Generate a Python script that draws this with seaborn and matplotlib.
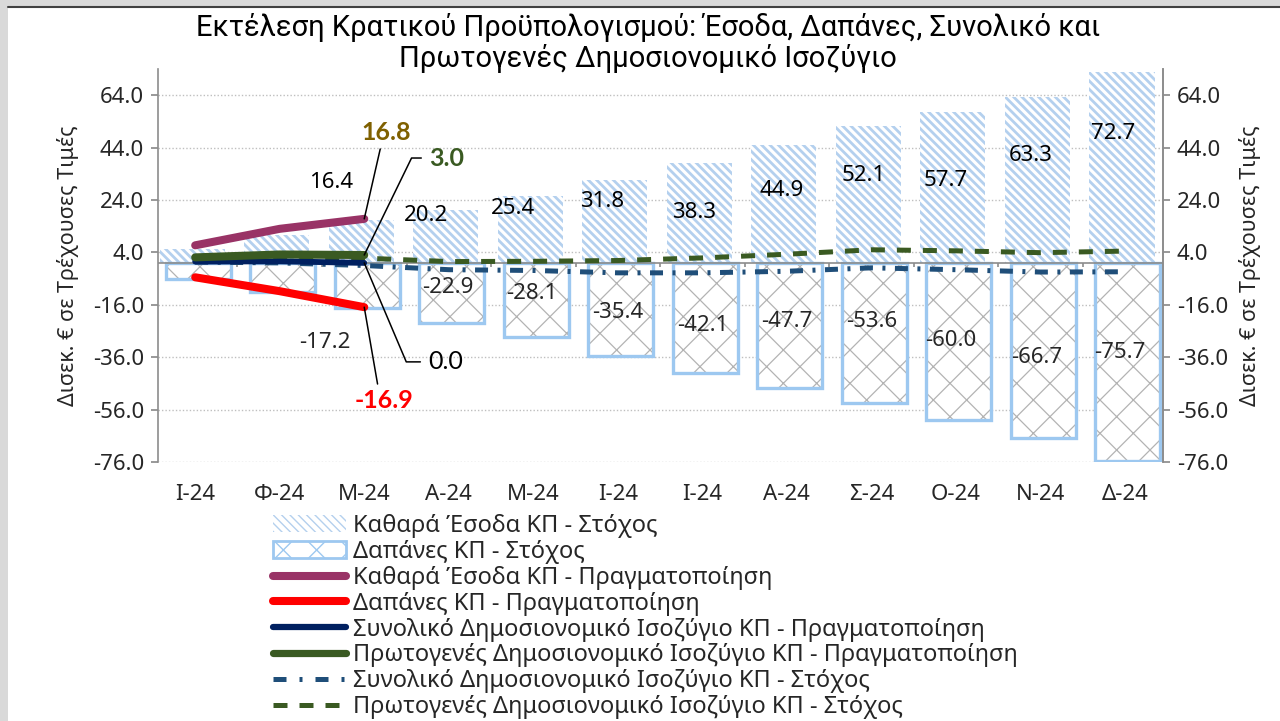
import numpy as np
import matplotlib
matplotlib.use("Agg")
import matplotlib.pyplot as plt
import seaborn as sns
from matplotlib.patches import Patch, Rectangle
from matplotlib.lines import Line2D

# data
months = ["Ι-24", "Φ-24", "Μ-24", "Α-24", "Μ-24", "Ι-24", "Ι-24", "Α-24", "Σ-24", "Ο-24", "Ν-24", "Δ-24"]
rev_target = [5.4, 10.5, 16.4, 20.2, 25.4, 31.8, 38.3, 44.9, 52.1, 57.7, 63.3, 72.7]
exp_target = [-6.0, -11.2, -17.2, -22.9, -28.1, -35.4, -42.1, -47.7, -53.6, -60.0, -66.7, -75.7]
bal_target = [0.3, 0.0, -1.0, -2.6, -2.9, -3.8, -3.8, -3.2, -1.9, -2.6, -3.5, -3.4]
prim_target = [1.5, 1.7, 1.8, 0.5, 0.6, 0.9, 1.9, 3.3, 5.0, 4.6, 3.9, 4.5]
rev_actual = [6.7, 13.0, 16.8]
exp_actual = [-5.5, -10.8, -16.9]
bal_actual = [0.5, 0.6, 0.0]
prim_actual = [2.1, 3.2, 3.0]

# where the bar value labels sit (data units), as placed in the original
rev_label_y = [None, None, 30.8, 17.9, 20.7, 23.6, 19.4, 27.7, 33.2, 31.3, 40.8, 49.2]
rev_label_dx = [0, 0, -0.39, -0.27, -0.24, -0.18, -0.10, -0.06, -0.09, -0.12, -0.12, -0.14]
exp_label_y = [None, None, -30.5, -9.3, -11.8, -18.9, -24.0, -22.4, -22.4, -29.5, -36.1, -34.2]
exp_label_dx = [0, 0, -0.47, -0.01, -0.02, 0.0, 0.0, 0.0, 0.0, -0.06, -0.04, -0.06]

labels = ["Καθαρά Έσοδα ΚΠ - Στόχος",
          "Δαπάνες ΚΠ - Στόχος",
          "Καθαρά Έσοδα ΚΠ - Πραγματοποίηση",
          "Δαπάνες ΚΠ - Πραγματοποίηση",
          "Συνολικό Δημοσιονομικό Ισοζύγιο ΚΠ - Πραγματοποίηση",
          "Πρωτογενές Δημοσιονομικό Ισοζύγιο ΚΠ - Πραγματοποίηση",
          "Συνολικό Δημοσιονομικό Ισοζύγιο ΚΠ - Στόχος",
          "Πρωτογενές Δημοσιονομικό Ισοζύγιο ΚΠ - Στόχος"]

C_STRIPE = "#B4D0EE"
C_EDGE = "#9DC8F0"
C_CROSS = "#B3B3B3"
C_REV = "#993366"
C_EXP = "#FF0000"
C_BAL = "#002060"
C_PRIM = "#3A5A22"
C_BAL_T = "#1F4E79"
C_GOLD = "#7F6000"
BOLD_FONT = ["Lato", "DejaVu Sans"]

sns.set_theme(style="white")
plt.rcParams["font.family"] = ["Noto Sans", "DejaVu Sans"]
plt.rcParams["hatch.linewidth"] = 1.0

fig = plt.figure(figsize=(12.8, 7.21), dpi=100)
ax = fig.add_axes([158 / 1280, 1 - 462 / 721, (1163 - 158) / 1280, (462 - 69) / 721])

x = np.arange(len(months))
xa = np.arange(len(rev_actual))

# target bars
sns.barplot(x=x - 0.035, y=rev_target, native_scale=True, orient="x", width=0.77,
            color="white", edgecolor=C_STRIPE, linewidth=0, hatch="\\\\\\\\",
            errorbar=None, ax=ax)
n_rev = len(ax.patches)
for p in ax.patches:
    if hasattr(p, "set_hatch_linewidth"):
        p.set_hatch_linewidth(2.0)
sns.barplot(x=x + 0.035, y=exp_target, native_scale=True, orient="x", width=0.77,
            color="white", edgecolor=C_CROSS, linewidth=0, hatch="x",
            errorbar=None, ax=ax)
sns.barplot(x=x + 0.035, y=exp_target, native_scale=True, orient="x", width=0.77,
            fill=False, color=C_EDGE, linewidth=2.4, errorbar=None, ax=ax)
for p in ax.patches[n_rev:]:
    if hasattr(p, "set_hatch_linewidth"):
        p.set_hatch_linewidth(0.9)

# zero axis with category boundary ticks
ax.axhline(0, color="#8C8C8C", lw=1.2, zorder=2)
ax.vlines(np.arange(0.5, len(months) - 1), -1.6, 0, color="#8C8C8C", lw=1.2, zorder=2)

# target lines
sns.lineplot(x=x, y=prim_target, color=C_PRIM, lw=3.6, linestyle=(0, (2.8, 2.4)), ax=ax, zorder=4)
sns.lineplot(x=x, y=bal_target, color=C_BAL_T, lw=3.6, linestyle=(0, (2.6, 1.9, 0.6, 1.9)), ax=ax, zorder=4)

# actual lines
sns.lineplot(x=xa, y=bal_actual, color=C_BAL, lw=4.2, solid_capstyle="round", ax=ax, zorder=5)
for vals, col in [(rev_actual, C_REV), (exp_actual, C_EXP), (prim_actual, C_PRIM)]:
    sns.lineplot(x=xa, y=vals, color=col, lw=5.8, solid_capstyle="round", ax=ax, zorder=5)

# bar value labels
for i in range(len(months)):
    if rev_label_y[i] is not None:
        ax.text(i + rev_label_dx[i], rev_label_y[i], f"{rev_target[i]:.1f}",
                ha="center", va="center", fontsize=16, color="black", zorder=6)
    if exp_label_y[i] is not None:
        ax.text(i + exp_label_dx[i], exp_label_y[i], f"{exp_target[i]:.1f}",
                ha="center", va="center", fontsize=16, color="#262626", zorder=6)

# call-outs for the last actual month
last = len(rev_actual) - 1
ax.annotate(f"{rev_actual[last]:.1f}", (last, rev_actual[last]), xytext=(22, 86),
            textcoords="offset pixels", ha="center", va="center", fontsize=18,
            fontweight="bold", family=BOLD_FONT, color=C_GOLD, zorder=7,
            arrowprops=dict(arrowstyle="-", color="black", lw=1.1, relpos=(0.4, 0),
                            shrinkA=1, shrinkB=0))
ax.annotate(f"{prim_actual[last]:.1f}", (last, prim_actual[last]), xytext=(82, 97),
            textcoords="offset pixels", ha="center", va="center", fontsize=18,
            fontweight="bold", family=BOLD_FONT, color=C_PRIM, zorder=7,
            arrowprops=dict(arrowstyle="-", color="black", lw=1.1, relpos=(0, 0.5),
                            shrinkA=3, shrinkB=0,
                            connectionstyle="angle,angleA=0,angleB=64,rad=0"))
ax.annotate(f"{bal_actual[last]:.1f}", (last, bal_actual[last]), xytext=(81, -99),
            textcoords="offset pixels", ha="center", va="center", fontsize=18,
            family=BOLD_FONT, color="black", zorder=7,
            arrowprops=dict(arrowstyle="-", color="black", lw=1.1, relpos=(0, 0.5),
                            shrinkA=3, shrinkB=0,
                            connectionstyle="angle,angleA=0,angleB=-67,rad=0"))
ax.annotate(f"{exp_actual[last]:.1f}", (last, exp_actual[last]), xytext=(20, -93),
            textcoords="offset pixels", ha="center", va="center", fontsize=18,
            fontweight="bold", family=BOLD_FONT, color=C_EXP, zorder=7,
            arrowprops=dict(arrowstyle="-", color="black", lw=1.1, relpos=(0.4, 1),
                            shrinkA=1, shrinkB=0))

# axes
yticks = np.arange(-76, 65, 20)
ax.set_xlim(-0.44, len(months) - 0.55)
ax.set_ylim(-76, 74)
ax.set_xticks(x)
ax.set_xticklabels(months, fontsize=16)
ax.tick_params(axis="x", length=0, pad=16, colors="#262626")
ax.set_yticks(yticks)
ax.set_yticklabels([f"{v:.1f}" for v in yticks], fontsize=16)
ax.tick_params(axis="y", direction="out", length=5, color="#8C8C8C", pad=5, colors="#262626")
ax.yaxis.grid(True, linestyle=(0, (1, 1.5)), color="#BFBFBF", lw=1)
ax.set_axisbelow(True)
ax.set_xlabel("")
ax.set_ylabel("Δισεκ. € σε Τρέχουσες Τιμές", fontsize=15.5, labelpad=10, color="#262626")
for s in ["top", "bottom"]:
    ax.spines[s].set_visible(False)
for s in ["left", "right"]:
    ax.spines[s].set_color("#8C8C8C")
    ax.spines[s].set_linewidth(1.2)

ax2 = ax.twinx()
ax2.set_ylim(ax.get_ylim())
ax2.set_yticks(yticks)
ax2.set_yticklabels([f"{v:.1f}" for v in yticks], fontsize=16)
ax2.tick_params(axis="y", direction="out", length=5, color="#8C8C8C", pad=5, colors="#262626")
ax2.grid(False)
ax2.set_ylabel("Δισεκ. € σε Τρέχουσες Τιμές", fontsize=15.5, labelpad=8, rotation=90, color="#262626")
for s in ["top", "bottom", "left"]:
    ax2.spines[s].set_visible(False)
ax2.spines["right"].set_color("#8C8C8C")
ax2.spines["right"].set_linewidth(1.2)

# title
fig.text(0.506, 1 - 43 / 721,
         "Εκτέλεση Κρατικού Προϋπολογισμού: Έσοδα, Δαπάνες, Συνολικό και\nΠρωτογενές Δημοσιονομικό Ισοζύγιο",
         ha="center", va="center", fontsize=21, linespacing=1.05, color="black",
         family=["Roboto", "DejaVu Sans"])

# legend
h_rev = Patch(facecolor="white", edgecolor=C_STRIPE, hatch="\\\\\\\\", lw=0)
h_exp = Patch(facecolor="white", edgecolor=C_EDGE, hatch="x", lw=2)
handles = [h_rev, h_exp,
           Line2D([], [], color=C_REV, lw=5.8, solid_capstyle="round"),
           Line2D([], [], color=C_EXP, lw=5.8, solid_capstyle="round"),
           Line2D([], [], color=C_BAL, lw=4.5, solid_capstyle="round"),
           Line2D([], [], color=C_PRIM, lw=5.2, solid_capstyle="round"),
           Line2D([], [], color=C_BAL_T, lw=3.6, linestyle=(0, (2.6, 2.6, 0.6, 2.6))),
           Line2D([], [], color=C_PRIM, lw=3.6, linestyle=(0, (2.8, 2.4)))]
fig.legend(handles, labels, loc="upper left", bbox_to_anchor=(273 / 1280, 1 - 514 / 721),
           frameon=False, fontsize=17, handlelength=3.1, handleheight=0.7,
           handletextpad=0.3, labelspacing=0.08, borderaxespad=0, borderpad=0)

# page edges of the original screenshot
fig.patches.append(Rectangle((0, 0), 8 / 1280, 1, transform=fig.transFigure,
                             facecolor="#D9D9D9", edgecolor="none", zorder=-1))
fig.patches.append(Rectangle((0, 1 - 6 / 721), 1, 6 / 721, transform=fig.transFigure,
                             facecolor="#D9D9D9", edgecolor="none", zorder=-1))
fig.add_artist(Line2D([8 / 1280, 1], [1 - 7 / 721, 1 - 7 / 721], transform=fig.transFigure,
                      color="#404040", lw=1.5))

fig.savefig("out.png", dpi=100)
